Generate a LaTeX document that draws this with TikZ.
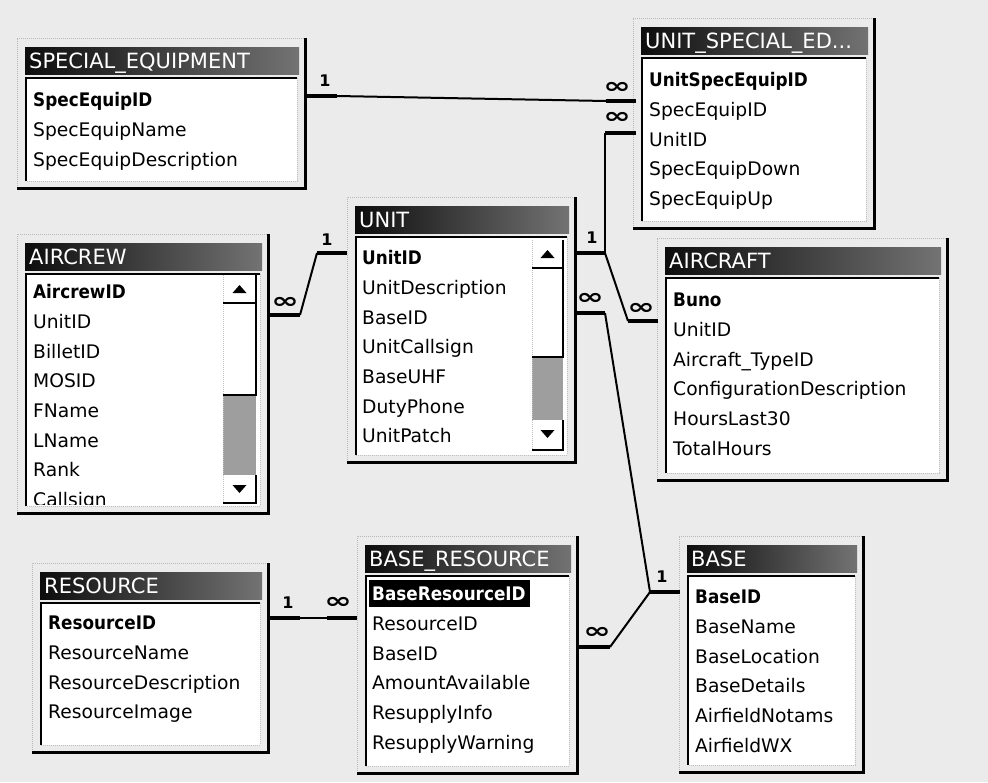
\documentclass[tikz,border=0pt]{standalone}
\usepackage{fontspec}
\setmainfont{DejaVu Sans}
\newfontfamily\keyfont[FakeStretch=0.9]{DejaVu Sans}
\definecolor{canvas}{gray}{0.92}
\definecolor{track}{gray}{0.62}

\tikzset{
  field/.style={anchor=west, inner sep=0pt, text height=13.5pt, text depth=0pt,
    font=\fontsize{18.7}{20}\selectfont},
  keyfield/.style={field, font=\keyfont\bfseries\fontsize{18.7}{20}\selectfont},
  titletext/.style={anchor=west, inner sep=0pt, text=white, text height=15pt,
    text depth=0pt, font=\fontsize{21}{22}\selectfont},
  titlebar/.style={left color=black!95, right color=black!55},
  framelight/.style={gray!55, densely dotted, line width=1pt},
  frameline/.style={line width=3pt},
  boxline/.style={line width=2.5pt},
  boxlight/.style={gray!50, densely dotted, line width=1pt},
  btnline/.style={line width=2.5pt},
  stub/.style={line width=4pt},
  link/.style={line width=2pt},
  onelabel/.style={inner sep=0pt, font=\bfseries\fontsize{16}{16}\selectfont},
  manylabel/.style={inner sep=0pt, xscale=1.5, font=\bfseries\fontsize{22}{22}\selectfont},
}

% table window: name, title, title left, title top, frame right, frame bottom
\newcommand{\dbtable}[6]{%
  \draw[framelight] (#3-8,#6) |- (#5,#4-9);
  \draw[frameline] (#5,#4-9) |- (#3-8,#6);
  \shade[titlebar] (#3,#4) rectangle (#5-6,#4+27);
  \node[titletext] (#1-title) at (#3+4,#4+14) {#2};
  \fill[white] (#3+1,#4+31) rectangle (#5-8,#6-7);
  \draw[boxlight] (#5-8,#4+31) |- (#3+1,#6-7);
  \draw[boxline] (#3+1,#6-7) |- (#5-8,#4+31);
}
% field list: name, x, first y, key field, other fields
\newcommand{\dbfields}[5]{%
  \node[keyfield] (#1-1) at (#2,#3) {#4};
  \foreach \f [count=\i from 2] in {#5}
    \node[field] (#1-\i) at (#2,#3+\i*29.7-29.7) {\f};
}
% scroll bar: left, right, top, thumb bottom, track bottom, bottom
\newcommand{\dbscroll}[6]{%
  \fill[white] (#1,#3) rectangle (#2,#6);
  \fill[track] (#1,#4) rectangle (#2,#5);
  \draw[boxlight] (#1,#3) -- (#1,#6);
  \draw[btnline] (#1,#3+28) -| (#2,#3);
  \draw[btnline] (#1,#4) -| (#2,#3+28);
  \draw[btnline] (#1,#6) -| (#2,#5);
  \fill ({(#1+#2)/2-7},#3+18) -- ++(14,0) -- ++(-7,-8) -- cycle;
  \fill ({(#1+#2)/2-7},#5+10) -- ++(14,0) -- ++(-7,8) -- cycle;
}

\begin{document}
\begin{tikzpicture}[x=1pt,y=-1pt]
  \useasboundingbox (0,0) rectangle (988,782);
  \fill[canvas] (0,0) rectangle (988,782);

  % Tables
  \dbtable{spec}{SPECIAL\_EQUIPMENT}{25}{47}{305}{188}
  \dbfields{spec}{33}{100}{SpecEquipID}{SpecEquipName,SpecEquipDescription}

  \dbtable{use}{UNIT\_SPECIAL\_ED...}{641}{27}{874}{228}
  \dbfields{use}{649}{80}{UnitSpecEquipID}{SpecEquipID,UnitID,SpecEquipDown,SpecEquipUp}

  \dbtable{crew}{AIRCREW}{25}{243}{268}{513}
  \dbscroll{223}{256}{275}{395}{475}{503}
  \begin{scope}
    \clip (26,274) rectangle (221,504);
    \dbfields{crew}{33}{292}{AircrewID}{UnitID,BilletID,MOSID,FName,LName,Rank,Callsign}
  \end{scope}

  \dbtable{unit}{UNIT}{355}{206}{575}{462}
  \dbscroll{532}{563}{240}{357}{420}{450}
  \dbfields{unit}{362}{258}{UnitID}{UnitDescription,BaseID,UnitCallsign,BaseUHF,DutyPhone,UnitPatch}

  \dbtable{craft}{AIRCRAFT}{665}{247}{947}{480}
  \dbfields{craft}{673}{300}{Buno}{UnitID,Aircraft\_TypeID,ConfigurationDescription,HoursLast30,TotalHours}

  \dbtable{res}{RESOURCE}{40}{572}{268}{752}
  \dbfields{res}{48}{623}{ResourceID}{ResourceName,ResourceDescription,ResourceImage}

  \dbtable{baseres}{BASE\_RESOURCE}{365}{545}{577}{773}
  \fill (369,580) rectangle (530,607);
  \begin{scope}[keyfield/.append style={text=white}]
    \dbfields{baseres}{372}{594}{BaseResourceID}{ResourceID,BaseID,AmountAvailable,ResupplyInfo,ResupplyWarning}
  \end{scope}

  \dbtable{base}{BASE}{687}{545}{863}{772}
  \dbfields{base}{695}{597}{BaseID}{BaseName,BaseLocation,BaseDetails,AirfieldNotams,AirfieldWX}

  % Link points
  \coordinate (spec-link) at (305,96);
  \coordinate (use-link1) at (636,101);
  \coordinate (use-link2) at (636,133);
  \coordinate (crew-link) at (268,315);
  \coordinate (unit-link0) at (347,253);
  \coordinate (unit-link1) at (575,253);
  \coordinate (unit-link2) at (575,313);
  \coordinate (craft-link) at (658,321);
  \coordinate (base-link) at (680,592);
  \coordinate (baseres-link0) at (357,618);
  \coordinate (baseres-link1) at (577,647);
  \coordinate (res-link) at (268,618);

  % Relationships
  \draw[stub] (spec-link) -- ++(32,0) coordinate (spec-end);
  \draw[stub] (use-link1) -- ++(-30,0) coordinate (use-end1);
  \draw[link] (spec-end) -- (use-end1);

  \draw[stub] (unit-link1) -- ++(30,0) coordinate (unit-end1);
  \draw[stub] (use-link2) -- ++(-31,0) coordinate (use-end2);
  \draw[link] (unit-end1) -- (use-end2);

  \draw[stub] (craft-link) -- ++(-30,0) coordinate (craft-end);
  \draw[link] (unit-end1) -- (craft-end);

  \draw[stub] (crew-link) -- ++(32,0) coordinate (crew-end);
  \draw[stub] (unit-link0) -- ++(-30,0) coordinate (unit-end0);
  \draw[link] (crew-end) -- (unit-end0);

  \draw[stub] (unit-link2) -- ++(30,0) coordinate (unit-end2);
  \draw[stub] (base-link) -- ++(-30,0) coordinate (base-end);
  \draw[link] (unit-end2) -- (base-end);

  \draw[stub] (baseres-link1) -- ++(33,0) coordinate (baseres-end1);
  \draw[link] (baseres-end1) -- (base-end);

  \draw[stub] (res-link) -- ++(32,0) coordinate (res-end);
  \draw[stub] (baseres-link0) -- ++(-30,0) coordinate (baseres-end0);
  \draw[link] (res-end) -- (baseres-end0);

  % Labels
  \node[onelabel] (spec-one) at (325,81) {1};
  \node[manylabel] (use-many1) at (617,88) {∞};
  \node[manylabel] (use-many2) at (617,118) {∞};
  \node[onelabel] (unit-one1) at (592,238) {1};
  \node[manylabel] (craft-many) at (641,309) {∞};
  \node[manylabel] (crew-many) at (285,303) {∞};
  \node[onelabel] (unit-one0) at (327,240) {1};
  \node[manylabel] (unit-many) at (590,299) {∞};
  \node[onelabel] (base-one) at (662,577) {1};
  \node[manylabel] (baseres-many1) at (597,633) {∞};
  \node[onelabel] (res-one) at (288,603) {1};
  \node[manylabel] (baseres-many0) at (338,603) {∞};
\end{tikzpicture}
\end{document}
